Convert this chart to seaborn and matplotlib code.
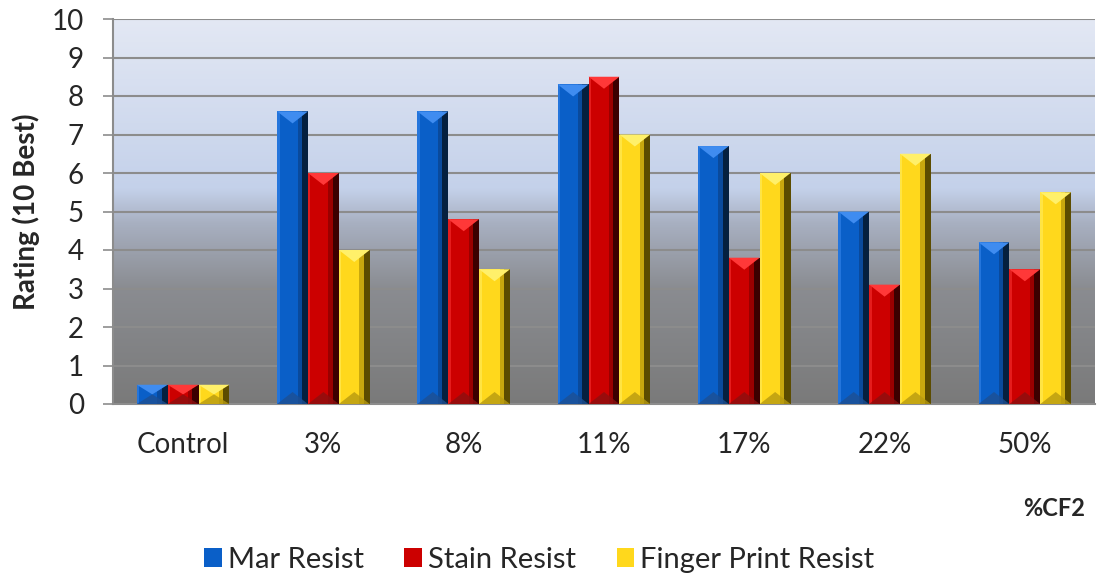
#!/usr/bin/env python3

import numpy as np
import pandas as pd
import matplotlib
matplotlib.use('Agg')
import matplotlib.pyplot as plt
from matplotlib.colors import LinearSegmentedColormap
from matplotlib.patches import Polygon, Rectangle
import seaborn as sns

categories = ['Control', '3%', '8%', '11%', '17%', '22%', '50%']
series = ['Mar Resist', 'Stain Resist', 'Finger Print Resist']
mar_resist = [0.5, 7.6, 7.6, 8.3, 6.7, 5.0, 4.2]
stain_resist = [0.5, 6.0, 4.8, 8.5, 3.8, 3.1, 3.5]
finger_print_resist = [0.5, 4.0, 3.5, 7.0, 6.0, 6.5, 5.5]
y_ticks = [0, 1, 2, 3, 4, 5, 6, 7, 8, 9, 10]

colors = ['#0a5fc8', '#cc0000', '#ffd81c']
mid = ['#0a4a9c', '#9a0000', '#c9a80e']
dark = ['#05203f', '#3c0000', '#5c4c00']
light = ['#3f8cf0', '#ff3838', '#fff06a']
bottom_shade = ['#1d4f93', '#8c1010', '#b79a10']


def main():
    sns.set_theme(style='white')
    plt.rcParams['font.family'] = ['Lato', 'DejaVu Sans']

    data = pd.DataFrame({
        'category': categories * 3,
        'rating': mar_resist + stain_resist + finger_print_resist,
        'series': [s for s in series for _ in categories],
    })

    fig = plt.figure(figsize=(10.97, 5.75), dpi=100)
    ax = fig.add_axes([113 / 1097, 1 - 404 / 575, (1097 - 115) / 1097, 385 / 575])

    # gradient plot area
    cmap = LinearSegmentedColormap.from_list('bg', [
        (0.0, '#7a7a7a'), (0.3, '#8a8c91'), (0.47, '#a8b0c1'),
        (0.56, '#c4d1ea'), (1.0, '#e3e8f4')])
    grad = np.linspace(0, 1, 256).reshape(-1, 1)
    ax.imshow(grad, cmap=cmap, origin='lower', aspect='auto',
              extent=[-0.5, len(categories) - 0.5, 0, 10], zorder=0)

    sns.barplot(data=data, x='category', y='rating', hue='series',
                palette=colors, width=0.66, saturation=1, linewidth=0,
                ax=ax, zorder=3)

    # bevel effect on each bar
    px_y = 10 / 385
    for i, cont in enumerate(ax.containers):
        for bar in cont:
            x, w, h = bar.get_x(), bar.get_width(), bar.get_height()
            d = min(12 * px_y, h / 2)
            ax.add_patch(Rectangle((x + 0.66 * w, 0), 0.14 * w, h,
                                   color=mid[i], lw=0, zorder=4))
            ax.add_patch(Rectangle((x + 0.8 * w, 0), 0.2 * w, h,
                                   color=dark[i], lw=0, zorder=4))
            ax.add_patch(Rectangle((x, 0), 0.08 * w, h,
                                   color=light[i], alpha=0.5, lw=0, zorder=4))
            ax.add_patch(Polygon([[x, h], [x + w, h], [x + w / 2, h - d]],
                                 closed=True, color=light[i], lw=0, zorder=5))
            ax.add_patch(Polygon([[x, 0], [x + w, 0], [x + w / 2, d]],
                                 closed=True, color=bottom_shade[i], lw=0,
                                 alpha=0.8, zorder=5))

    ax.set_xlim(-0.5, len(categories) - 0.5)
    ax.set_ylim(0, 10)
    ax.set_yticks(y_ticks)
    ax.set_yticklabels([str(t) for t in y_ticks], fontsize=20)
    ax.set_xticks(range(len(categories)))
    ax.set_xticklabels(categories, fontsize=20)
    ax.set_xticks(np.arange(-0.5, len(categories), 1), minor=True)
    ax.tick_params(axis='x', which='major', length=0, pad=20)
    ax.tick_params(axis='x', which='minor', length=8, width=1.2,
                   color='#8c8c8c', direction='out')
    ax.tick_params(axis='y', length=7, width=1.2, color='#8c8c8c',
                   direction='out', pad=14, left=True)
    ax.yaxis.grid(True, color='#8c8c8c', linewidth=1.5, zorder=1)
    ax.set_axisbelow(True)
    for s in ['top', 'right']:
        ax.spines[s].set_visible(False)
    for s in ['left', 'bottom']:
        ax.spines[s].set_color('#8c8c8c')
        ax.spines[s].set_linewidth(1.5)

    ax.set_xlabel('')
    ax.set_ylabel('Rating (10 Best)', fontsize=20, fontweight='bold', labelpad=8)
    fig.text(1085 / 1097, 1 - 508 / 575, '%CF2', fontsize=17,
             fontweight='bold', ha='right', va='center')

    sns.move_legend(ax, 'center', bbox_to_anchor=(0.434, -0.405), ncol=3,
                    frameon=False, title=None, fontsize=21,
                    handlelength=0.6, handleheight=0.6, handletextpad=0.2,
                    columnspacing=1.4)

    fig.savefig('out.png', dpi=100)


if __name__ == '__main__':
    main()
